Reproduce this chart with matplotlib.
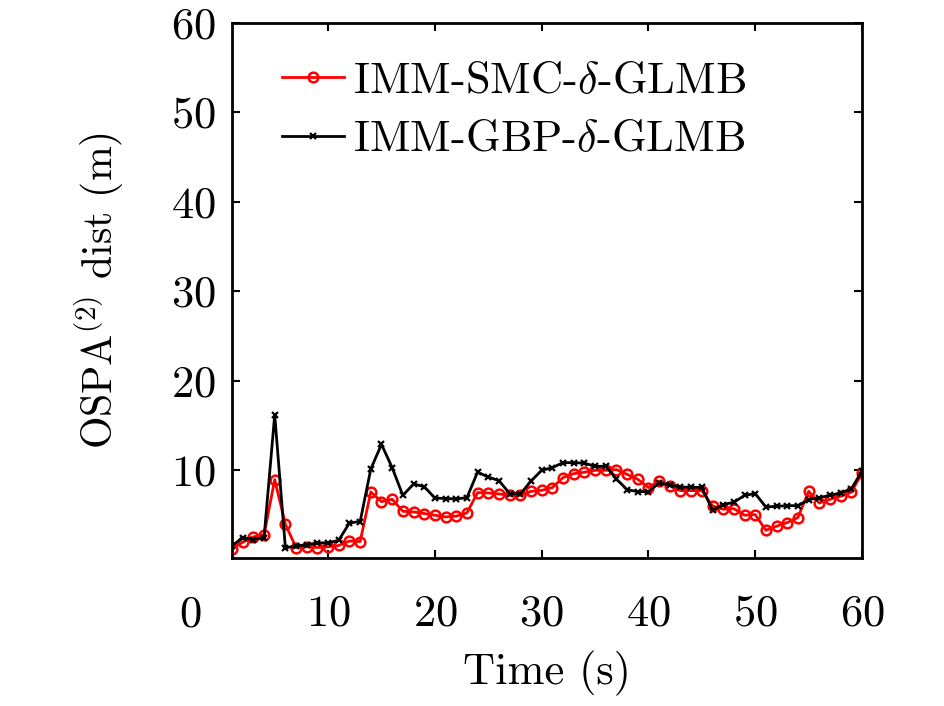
import matplotlib
matplotlib.use('Agg')
import matplotlib.pyplot as plt

plt.rcParams['font.family'] = ['cmr10', 'DejaVu Serif']
plt.rcParams['mathtext.fontset'] = 'cm'
plt.rcParams['axes.formatter.use_mathtext'] = True
plt.rcParams['font.size'] = 32

time_s = list(range(1, 61))

smc_glmb = [1.26, 1.96, 2.56, 2.78, 8.96, 3.97, 1.37, 1.45, 1.37, 1.45,
            1.60, 2.10, 2.04, 7.58, 6.50, 6.76, 5.42, 5.35, 5.17, 4.98,
            4.79, 4.88, 5.24, 7.51, 7.47, 7.36, 7.20, 7.20, 7.65, 7.76,
            8.07, 9.18, 9.63, 9.78, 10.0, 10.0, 10.08, 9.55, 9.00, 8.07,
            8.80, 8.28, 7.73, 7.73, 7.73, 6.02, 5.65, 5.72, 4.98, 5.05,
            3.30, 3.75, 4.16, 4.72, 7.65, 6.35, 6.76, 7.10, 7.55, 9.70]

gbp_glmb = [1.55, 2.49, 2.26, 2.49, 16.2, 1.33, 1.55, 1.67, 1.89, 1.89,
            2.19, 4.12, 4.27, 10.15, 12.9, 10.3, 7.20, 8.47, 8.18, 6.90,
            6.85, 6.80, 6.95, 9.80, 9.25, 8.85, 7.40, 7.35, 8.80, 10.0,
            10.3, 10.86, 10.86, 10.8, 10.45, 10.45, 9.03, 7.84, 7.62, 7.62,
            8.58, 8.36, 8.14, 8.10, 8.10, 5.54, 6.17, 6.43, 7.20, 7.40,
            5.90, 5.98, 6.05, 6.05, 6.72, 6.95, 7.20, 7.47, 7.92, 9.93]

x_ticks = [10, 20, 30, 40, 50, 60]
y_ticks = [10, 20, 30, 40, 50, 60]


def main():
    fig = plt.figure(figsize=(9.45, 7.06), dpi=100)
    ax = fig.add_axes([232 / 945, 1 - 558 / 706, 630 / 945, 535 / 706])

    ax.plot(time_s, smc_glmb, color='red', lw=2, marker='o', ms=7,
            mfc='none', mew=1.8, label=r'IMM-SMC-$\delta$-GLMB')
    ax.plot(time_s, gbp_glmb, color='black', lw=2, marker='x', ms=4.5,
            mew=1.6, label=r'IMM-GBP-$\delta$-GLMB')

    ax.set_xlim(1, 60)
    ax.set_ylim(0.2, 60)
    ax.set_xticks(x_ticks)
    ax.set_yticks(y_ticks)
    ax.tick_params(direction='in', top=True, right=True, length=6,
                   width=1.5, pad=26)
    ax.tick_params(axis='y', pad=12)
    for sp in ax.spines.values():
        sp.set_linewidth(2)

    # stray "0" label on the x axis, left of the plot
    ax.text(-2.9, -6.2, '0', ha='center', va='center', clip_on=False)

    ax.set_xlabel('Time (s)', labelpad=12)
    ax.set_ylabel(r'OSPA$^{(2)}$ dist (m)', labelpad=32, fontsize=30)

    ax.legend(loc='upper left', frameon=False, numpoints=1,
              handlelength=1.4, handletextpad=0.2, borderaxespad=0.3,
              labelspacing=0.42, bbox_to_anchor=(0.03, 0.986))

    fig.savefig('out.png', dpi=100)


if __name__ == '__main__':
    main()
